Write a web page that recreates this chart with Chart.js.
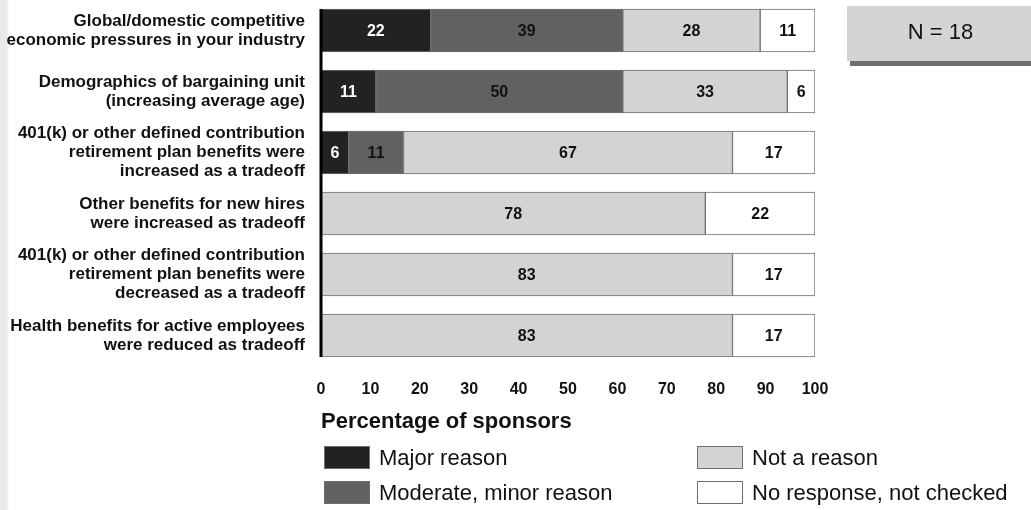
<!DOCTYPE html>
<html>
<head>
<meta charset="utf-8">
<script src="https://cdn.jsdelivr.net/npm/chart.js@4.4.1/dist/chart.umd.min.js"></script>
<style>
	html, body { margin: 0; padding: 0; }
	body {
		width: 1031px;
		height: 510px;
		overflow: hidden;
		position: relative;
		background: linear-gradient(to right, #e8e8e8 0px, #ebebeb 7px, #ffffff 9px);
		font-family: "Liberation Sans", Arial, sans-serif;
	}
	#bar-chart-reasons { position: absolute; left: 0; top: 0; }
	#n-box {
		position: absolute;
		left: 847px;
		top: 6px;
		width: 187px;
		height: 55px;
		line-height: 52px;
		text-align: center;
		background: #d4d4d4;
		box-shadow: 3px 5px 0 #6e6e6e;
		font-size: 22px;
		color: #111;
	}
	.legend-item {
		position: absolute;
		height: 23px;
		display: flex;
		align-items: center;
		font-size: 22px;
		color: #111;
		white-space: nowrap;
	}
	.legend-swatch {
		width: 46px;
		height: 23px;
		box-sizing: border-box;
		border: 1px solid #6f6f6f;
		margin-right: 9px;
	}
</style>
</head>
<body>
<canvas id="bar-chart-reasons" width="1031" height="510"></canvas>
<div id="n-box">N = 18</div>
<div id="legend"></div>
<script>
"use strict";

const categories = [
	['Global/domestic competitive', 'economic pressures in your industry'],
	['Demographics of bargaining unit', '(increasing average age)'],
	['401(k) or other defined contribution', 'retirement plan benefits were', 'increased as a tradeoff'],
	['Other benefits for new hires', 'were increased as tradeoff'],
	['401(k) or other defined contribution', 'retirement plan benefits were', 'decreased as a tradeoff'],
	['Health benefits for active employees', 'were reduced as tradeoff']
];
const seriesNames = ['Major reason', 'Moderate, minor reason', 'Not a reason', 'No response, not checked'];
const majorReason = [22.2, 11.1, 5.6, null, null, null];
const moderateReason = [38.9, 50.0, 11.1, null, null, null];
const notAReason = [27.8, 33.3, 66.6, 77.8, 83.3, 83.3];
const noResponse = [11.1, 5.6, 16.7, 22.2, 16.7, 16.7];
const xTicks = [0, 10, 20, 30, 40, 50, 60, 70, 80, 90, 100];

const colors = ['#222222', '#616161', '#d3d3d3', '#ffffff'];
const labelColors = ['#ffffff', '#111111', '#111111', '#111111'];
const FONT = '"Liberation Sans", Arial, sans-serif';
const BAR = 43;

// numbers inside the bars + the thick left axis line
const barLabels = {
	id: 'barLabels',
	afterDatasetsDraw(chart) {
		const ctx = chart.ctx;
		ctx.save();
		ctx.font = 'bold 16px ' + FONT;
		ctx.textAlign = 'center';
		ctx.textBaseline = 'middle';
		chart.data.datasets.forEach((dataset, i) => {
			const meta = chart.getDatasetMeta(i);
			meta.data.forEach((bar, j) => {
				const value = dataset.data[j];
				if (value === null) return;
				const {x, y, base} = bar.getProps(['x', 'y', 'base'], true);
				ctx.fillStyle = labelColors[i];
				ctx.fillText(Math.round(value), (x + base) / 2, y + 1);
			});
		});

		const yScale = chart.scales.y;
		const top = yScale.getPixelForValue(0) - BAR / 2;
		const bottom = yScale.getPixelForValue(categories.length - 1) + BAR / 2;
		ctx.fillStyle = '#000000';
		ctx.fillRect(chart.chartArea.left - 1.5, top, 3, bottom - top);
		ctx.restore();
	}
};


function displayBarChartReasons() {
	const ctx = document.querySelector('#bar-chart-reasons').getContext('2d');
	const values = [majorReason, moderateReason, notAReason, noResponse];

	Chart.defaults.font.family = FONT;

	return new Chart(ctx, {
		type: 'bar',
		data: {
			labels: categories,
			datasets: seriesNames.map((name, i) => ({
				label: name,
				data: values[i],
				backgroundColor: colors[i],
				borderColor: '#707070',
				borderWidth: 1,
				borderSkipped: false,
				barThickness: BAR
			}))
		},
		options: {
			responsive: false,
			animation: false,
			indexAxis: 'y',
			layout: {
				padding: { top: 0, bottom: 74, left: 0, right: 216 }
			},
			plugins: {
				legend: { display: false },
				tooltip: { enabled: false }
			},
			scales: {
				x: {
					stacked: true,
					min: xTicks[0],
					max: xTicks[xTicks.length - 1],
					afterBuildTicks(scale) {
						scale.ticks = xTicks.map(v => ({ value: v }));
					},
					ticks: {
						padding: 14,
						color: '#111111',
						font: { size: 16, weight: 'bold' }
					},
					grid: { display: false, drawTicks: false },
					border: { display: false },
					title: {
						display: true,
						text: 'Percentage of sponsors',
						align: 'start',
						color: '#111111',
						font: { size: 22, weight: 'bold' },
						padding: { top: 0, bottom: 1 }
					},
					afterFit(scale) {
						scale.height = 70;
					}
				},
				y: {
					stacked: true,
					ticks: {
						autoSkip: false,
						padding: 16,
						color: '#111111',
						font: { size: 17, weight: 'bold', lineHeight: 1.12 }
					},
					grid: { display: false, drawTicks: false },
					border: { display: false },
					afterFit(scale) {
						scale.width = 321;
						scale.paddingTop = 0;
						scale.paddingBottom = 0;
					}
				}
			}
		},
		plugins: [barLabels]
	});
}


function displayLegend(chart) {
	const spots = [[324, 446], [324, 481], [697, 446], [697, 481]];
	const legend = document.querySelector('#legend');
	chart.data.datasets.forEach((dataset, i) => {
		const item = document.createElement('div');
		item.className = 'legend-item';
		item.style.left = spots[i][0] + 'px';
		item.style.top = spots[i][1] + 'px';
		const swatch = document.createElement('span');
		swatch.className = 'legend-swatch';
		swatch.style.background = dataset.backgroundColor;
		const text = document.createElement('span');
		text.textContent = dataset.label;
		item.appendChild(swatch);
		item.appendChild(text);
		legend.appendChild(item);
	});
}

const chart = displayBarChartReasons();
displayLegend(chart);
</script>
</body>
</html>
